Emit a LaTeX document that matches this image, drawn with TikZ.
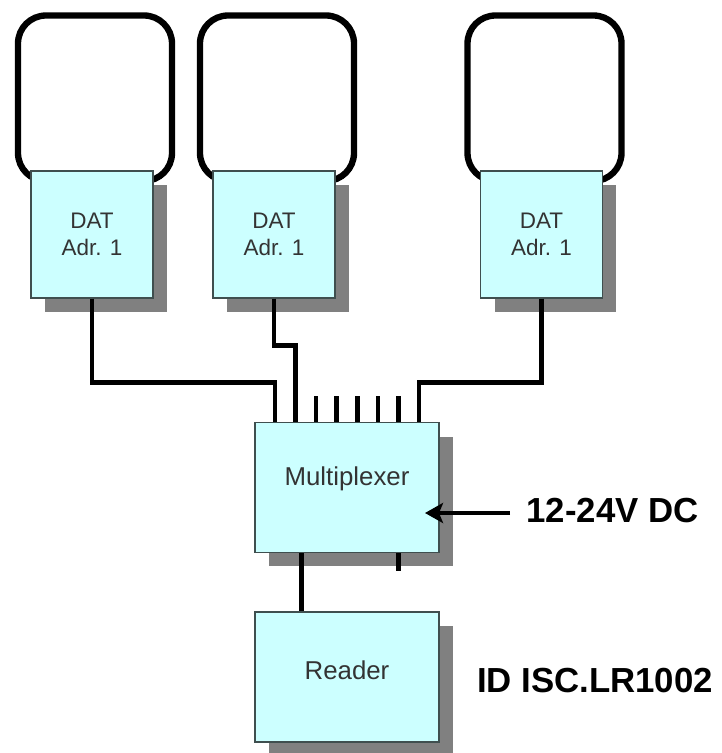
\documentclass[tikz,border=0pt]{standalone}
\usepackage{fontspec}
\setmainfont{Liberation Sans}
\usetikzlibrary{shadows,calc,arrows.meta}
\definecolor{boxfill}{HTML}{CCFFFF}
\definecolor{boxline}{HTML}{3F4F4F}
\definecolor{shade}{HTML}{808080}

\begin{document}
\begin{tikzpicture}[x=0.02cm,y=-0.02cm,
		box/.style={draw=boxline,line width=0.6pt,fill=boxfill,text=black!80,align=center,inner sep=0pt,
			drop shadow={shadow xshift=0.28cm,shadow yshift=-0.28cm,fill=shade,opacity=1}},
		dat/.style={box,minimum width=2.44cm,minimum height=2.54cm,font=\fontsize{12.8}{15.3}\selectfont},
		unit/.style={box,minimum width=3.68cm,minimum height=2.6cm},
		wire/.style={line width=2.6pt},
		antenna/.style={line width=3.6pt,rounded corners=0.56cm},
		big/.style={font=\bfseries\fontsize{19.8}{22}\selectfont}]
		%\draw[blue] (0,0) grid[step=50] (722,753);
		\useasboundingbox (0,0) rectangle (722,753);

		% antenna loops
		\foreach \x in {92,274,541.5}
			\draw [antenna] (\x-74,15.5) rectangle (\x+80,181);

		\node [dat] (dat1) at (92,234.5) {DAT\\Adr. 1};
		\node [dat] (dat2) at (274,234.5) {DAT\\Adr. 1};
		\node [dat] (dat3) at (541.5,234.5) {DAT\\Adr. 1};

		\node [unit] (mux) at (347,487.5) {};
		\node [unit] (reader) at (347,677) {};
		\node [text=black!80,font=\fontsize{14.7}{17}\selectfont] (muxtext) at ([yshift=0.18cm]mux.center) {Multiplexer};
		\node [text=black!80,font=\fontsize{14.7}{17}\selectfont] (readertext) at ([yshift=0.14cm]reader.center) {Reader};

		% multiplexer inputs
		\foreach \i in {1,...,8}
			\coordinate (p\i) at ($(mux.north west)!\i/9!(mux.north east)$);
		\foreach \i in {3,...,7}
			\draw [wire] (p\i) -- ++(0,-26);
		\draw [wire] (dat1.south) -- ++(0,84) -| (p1);
		\draw [wire] (dat2.south) -- ++(0,47) -| (p2);
		\draw [wire] (dat3.south) -- ++(0,84) -| (p8);

		% multiplexer outputs
		\coordinate (q1) at ($(mux.south west)!0.255!(mux.south east)$);
		\coordinate (q2) at ($(mux.south west)!7/9!(mux.south east)$);
		\draw [wire] (q1) -- (q1 |- reader.north);
		\draw [wire] (q2) -- ++(0,18);

		% supply
		\coordinate (dcin) at (510,513);
		\coordinate (dctip) at (425,513);
		\draw [wire,-{Stealth[length=0.36cm,width=0.4cm,inset=0.08cm]}] (dcin) -- (dctip);

		\node [big] (dc) at (612.5,510.5) {12-24V DC};
		\node [big] (type) at (595,680.5) {ID ISC.LR1002};
	\end{tikzpicture}
\end{document}
